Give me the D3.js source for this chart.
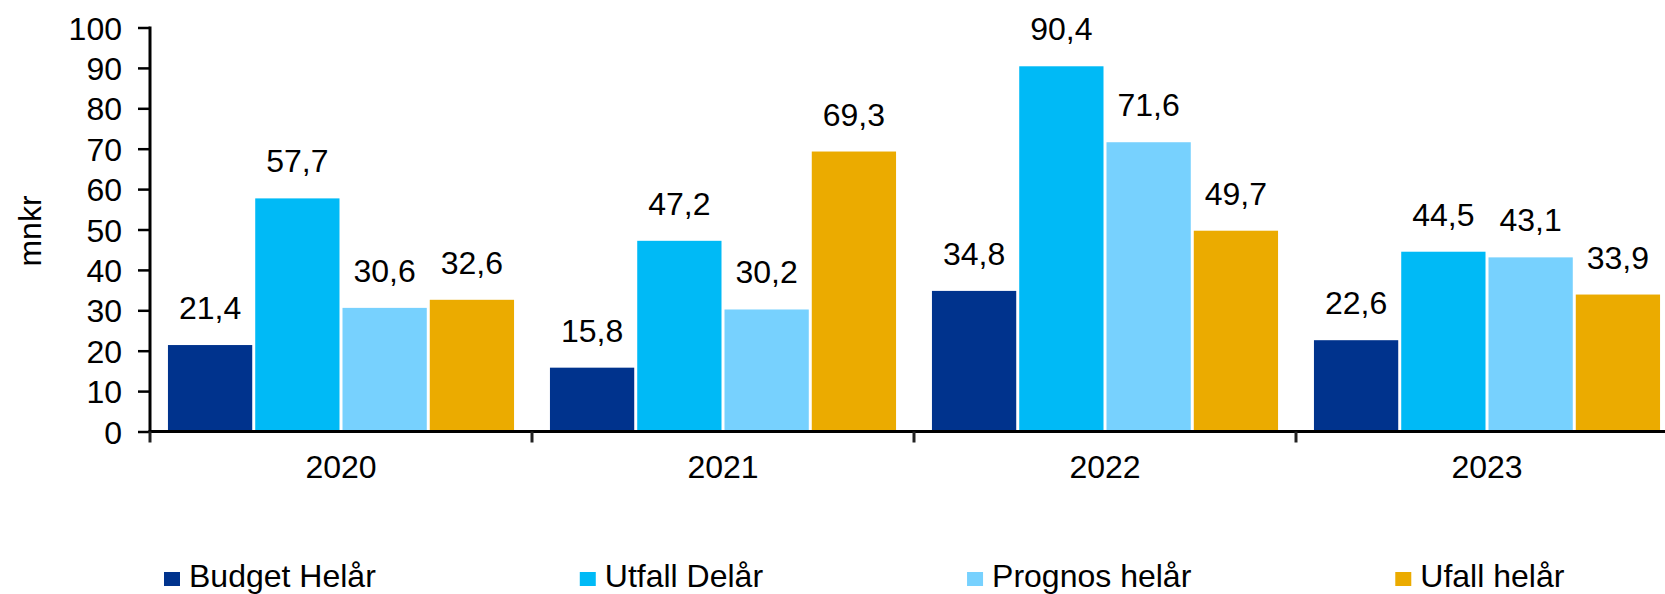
<!DOCTYPE html>
<html>
<head>
<meta charset="utf-8">
<script src="https://cdn.jsdelivr.net/npm/d3@7/dist/d3.min.js"></script>
<style>
  html, body { margin: 0; padding: 0; background: #fff; }
  svg { display: block; }
  text { font-family: "Liberation Sans", Arial, sans-serif; fill: #000; }
</style>
</head>
<body>
<svg id="chart" width="1665" height="594"></svg>
<script>
const categories = ["2020", "2021", "2022", "2023"];
const seriesNames = ["Budget Helår", "Utfall Delår", "Prognos helår", "Ufall helår"];
const budgetHelar = [21.4, 15.8, 34.8, 22.6];
const utfallDelar = [57.7, 47.2, 90.4, 44.5];
const prognosHelar = [30.6, 30.2, 71.6, 43.1];
const ufallHelar = [32.6, 69.3, 49.7, 33.9];
const yTicks = [0, 10, 20, 30, 40, 50, 60, 70, 80, 90, 100];
const colors = ["#00338D", "#00BAF6", "#77D1FE", "#EBAB00"];

const seriesValues = [budgetHelar, utfallDelar, prognosHelar, ufallHelar];
const svg = d3.select("#chart");
const FS = 32;

const x0 = d3.scaleBand().domain(categories).range([150, 1678])
  .paddingInner(0.094).paddingOuter(0.047);
const x1 = d3.scaleBand().domain(seriesNames).range([0, x0.bandwidth()])
  .paddingInner(0.0344).paddingOuter(0);
const y = d3.scaleLinear().domain([0, 100]).range([431.5, 27.5]);

// bars
categories.forEach((c, ci) => {
  const g = svg.append("g").attr("transform", `translate(${x0(c)},0)`);
  seriesNames.forEach((s, si) => {
    const v = seriesValues[si][ci];
    g.append("rect")
      .attr("x", x1(s)).attr("width", x1.bandwidth())
      .attr("y", y(v)).attr("height", y(0) - y(v))
      .attr("fill", colors[si]);
    g.append("text")
      .attr("x", x1(s) + x1.bandwidth() / 2)
      .attr("y", y(v) - 26)
      .attr("text-anchor", "middle")
      .style("font-size", FS + "px")
      .text(d3.format(".1f")(v).replace(".", ","));
  });
});

// y axis
const yAxis = d3.axisLeft(y).tickValues(yTicks).tickSize(12).tickPadding(16).tickFormat(d3.format("d"));
const gy = svg.append("g").attr("transform", "translate(150,0)").call(yAxis);
gy.select(".domain").remove();
gy.selectAll(".tick line").attr("stroke", "#000").attr("stroke-width", 2.5);
gy.selectAll(".tick text").style("font-size", FS + "px").attr("fill", "#000")
  .attr("dy", "0.36em").style("font-family", "'Liberation Sans', Arial, sans-serif");
svg.append("line").attr("x1", 150).attr("x2", 150).attr("y1", y(100) - 1).attr("y2", y(0))
  .attr("stroke", "#000").attr("stroke-width", 3);

// x axis
svg.append("line").attr("x1", 148.5).attr("x2", 1678).attr("y1", y(0)).attr("y2", y(0))
  .attr("stroke", "#000").attr("stroke-width", 3);
const boundaries = categories.map(c => x0(c) - x0.step() * x0.paddingInner() / 2)
  .concat([x0(categories[categories.length - 1]) + x0.bandwidth() + x0.step() * x0.paddingInner() / 2]);
boundaries.forEach(b => {
  svg.append("line").attr("x1", b).attr("x2", b).attr("y1", y(0)).attr("y2", y(0) + 11)
    .attr("stroke", "#222").attr("stroke-width", 3);
});
categories.forEach(c => {
  svg.append("text")
    .attr("x", x0(c) + x0.bandwidth() / 2)
    .attr("y", 478)
    .attr("text-anchor", "middle")
    .style("font-size", FS + "px")
    .text(c);
});

// y title
svg.append("text")
  .attr("transform", "translate(41,231) rotate(-90)")
  .attr("text-anchor", "middle")
  .style("font-size", FS + "px")
  .text("mnkr");

// legend
let lx = 164;
seriesNames.forEach((s, si) => {
  svg.append("rect").attr("x", lx).attr("y", 572).attr("width", 16).attr("height", 14)
    .attr("fill", colors[si]);
  const t = svg.append("text").attr("x", lx + 25).attr("y", 587)
    .style("font-size", FS + "px").text(s);
  const w = t.node().getComputedTextLength();
  lx = lx + 25 + w + 204;
});
</script>
</body>
</html>
